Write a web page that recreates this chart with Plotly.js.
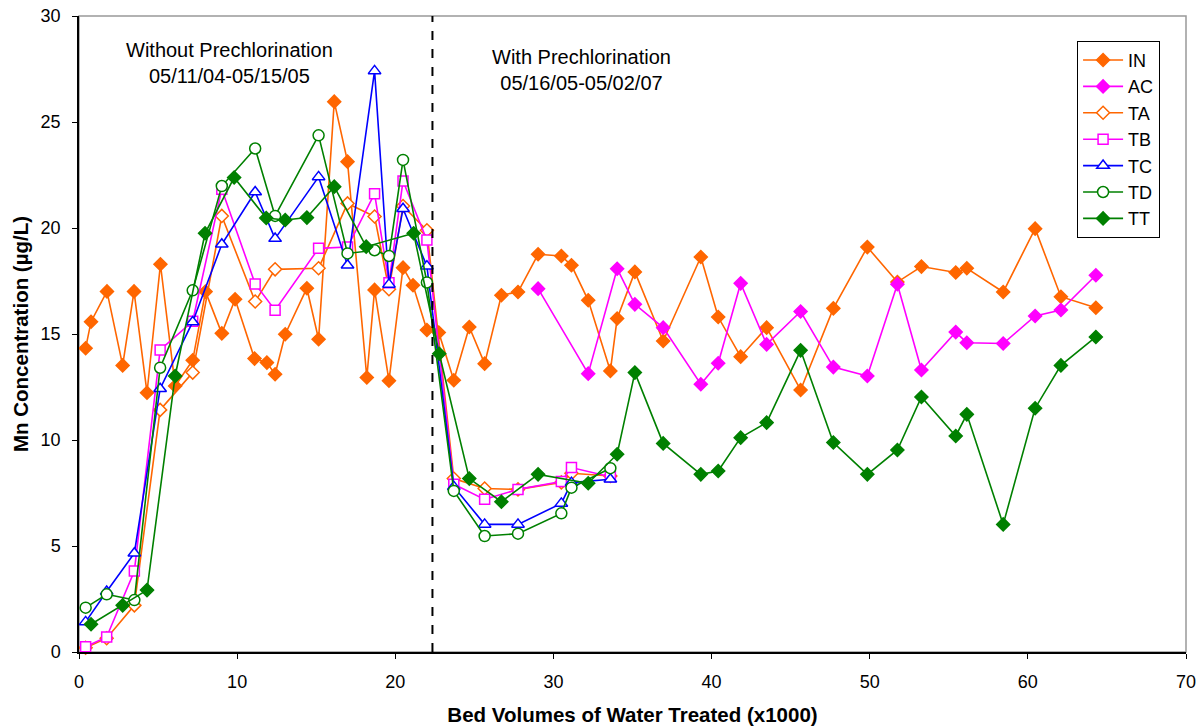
<!DOCTYPE html>
<html><head><meta charset="utf-8">
<script src="https://cdn.plot.ly/plotly-3.0.1.min.js"></script>
<style>body{margin:0;background:#fff}#c{width:1198px;height:727px}</style>
</head><body><div id="c"></div>
<script>
// Bed volumes (x1000) and Mn concentrations (µg/L)
const inX = [0.42,0.76,1.77,2.76,3.48,4.30,5.15,6.08,7.19,8.0,9.03,9.87,11.1,11.88,12.4,13.04,14.41,15.15,16.14,16.98,18.2,18.69,19.6,20.49,21.12,22.0,22.75,23.7,24.68,25.65,26.71,27.76,29.03,30.5,31.14,32.2,33.6,34.03,35.15,36.94,39.32,40.42,41.84,43.48,45.63,47.7,49.85,51.75,53.27,55.44,56.14,58.44,60.46,62.09,64.3];
const inY = [14.33,15.58,17.01,13.52,17.01,12.23,18.29,12.55,13.76,17.0,15.03,16.64,13.84,13.65,13.1,14.99,17.16,14.75,25.96,23.13,12.95,17.08,12.8,18.13,17.3,15.19,15.07,12.82,15.33,13.6,16.83,16.98,18.76,18.68,18.24,16.59,13.26,15.73,17.93,14.67,18.63,15.8,13.93,15.3,12.36,16.21,19.1,17.45,18.18,17.9,18.1,16.98,19.97,16.76,16.24];
const acX = [29.03,32.2,34.03,35.15,36.94,39.32,40.42,41.84,43.48,45.63,47.7,49.85,51.75,53.27,55.44,56.14,58.44,60.46,62.09,64.3];
const acY = [17.14,13.13,18.08,16.4,15.3,12.63,13.62,17.39,14.51,16.06,13.44,13.02,17.35,13.3,15.09,14.59,14.55,15.85,16.13,17.77];
const tX = [0.42,1.75,3.5,5.13,7.19,9.03,11.14,12.4,15.15,16.98,18.69,19.6,20.49,22.0,23.7,25.65,27.76,30.5,31.14,33.6];
const taY = [0.2,0.65,2.2,11.42,13.18,20.57,16.53,18.05,18.1,21.16,20.54,17.11,21.04,19.89,8.18,7.71,7.67,8.0,8.43,8.3];
const tbY = [0.25,0.71,3.82,14.25,15.6,21.83,17.36,16.12,19.04,19.1,21.62,17.42,22.22,19.43,7.91,7.2,7.67,8.04,8.7,8.27];
const tcY = [1.42,2.85,4.66,12.42,15.57,19.23,21.7,19.5,22.41,18.24,27.41,17.34,20.91,18.2,7.8,6.02,6.02,7.01,7.99,8.15];
const tdY = [2.09,2.72,2.45,13.41,17.06,21.98,23.75,20.57,24.37,18.8,18.95,18.68,23.21,17.43,7.6,5.47,5.58,6.54,7.75,8.67];
const ttX = [0.76,2.76,4.3,6.08,7.97,9.81,11.84,13.04,14.41,16.14,18.16,21.16,22.78,24.68,26.71,29.03,32.2,34.03,35.15,36.94,39.32,40.42,41.84,43.48,45.63,47.7,49.85,51.75,53.27,55.44,56.14,58.44,60.46,62.09,64.3];
const ttY = [1.31,2.2,2.92,13.02,19.75,22.38,20.47,20.38,20.49,21.95,19.12,19.75,14.07,8.18,7.09,8.38,7.96,9.33,13.18,9.84,8.38,8.54,10.11,10.82,14.23,9.88,8.38,9.53,12.03,10.19,11.21,6.02,11.5,13.52,14.86];
const dividerX = 22.35;
const xTicks = [0,10,20,30,40,50,60,70];
const yTicks = [0,5,10,15,20,25,30];

const ORANGE='#FF6600', MAG='#FF00FF', BLUE='#0000FF', GREEN='#008000';
function tr(name,x,y,color,symbol,filled,size){
  return {type:'scatter',mode:'lines+markers',name:name,x:x,y:y,
    line:{color:color,width:1.6},
    marker:{symbol:symbol,size:size,color:filled?color:'#ffffff',line:{color:color,width:1.5}},
    cliponaxis:false};
}
const data=[
  tr('IN',inX,inY,ORANGE,'diamond',true,10),
  tr('AC',acX,acY,MAG,'diamond',true,10),
  tr('TA',tX,taY,ORANGE,'diamond',false,10),
  tr('TB',tX,tbY,MAG,'square',false,10),
  tr('TC',tX,tcY,BLUE,'triangle-up',false,11),
  tr('TD',tX,tdY,GREEN,'circle',false,11),
  tr('TT',ttX,ttY,GREEN,'diamond',true,10)
];
const layout={
  width:1198,height:727,
  margin:{l:79,r:12,t:16,b:75},
  paper_bgcolor:'#fff',plot_bgcolor:'#fff',
  font:{family:'Liberation Sans, Arial, sans-serif',size:18,color:'#000'},
  showlegend:true,
  legend:{x:0.9016,y:0.961,xanchor:'left',yanchor:'top',bordercolor:'#000',borderwidth:1,bgcolor:'#fff',
    font:{size:18},tracegroupgap:0,itemwidth:40},
  xaxis:{range:[0,70],tickvals:xTicks,ticks:'outside',ticklen:5,tickcolor:'#000',showgrid:false,zeroline:false,
    showline:true,linecolor:'#000',linewidth:1.5,ticklabelstandoff:8,
    title:{text:'<b>Bed Volumes of Water Treated (x1000)</b>',font:{size:20.5},standoff:16}},
  yaxis:{range:[0,30],tickvals:yTicks,ticks:'outside',ticklen:5,tickcolor:'#000',showgrid:false,zeroline:false,
    showline:true,linecolor:'#000',linewidth:1.5,ticklabelstandoff:8,
    title:{text:'<b>Mn Concentration (µg/L)</b>',font:{size:20.5},standoff:6}},
  shapes:[
    {type:'rect',xref:'paper',yref:'paper',x0:0,x1:1,y0:0,y1:1,line:{color:'#999',width:1.5},layer:'below'},
    {type:'line',xref:'x',yref:'y',x0:dividerX,x1:dividerX,y0:0,y1:30,line:{color:'#000',width:2,dash:'dash'}}
  ],
  annotations:[
    {xref:'x',yref:'y',x:9.5,y:27.8,text:'Without Prechlorination<br>05/11/04-05/15/05',showarrow:false,font:{size:20},align:'center'},
    {xref:'x',yref:'y',x:31.8,y:27.43,text:'With Prechlorination<br>05/16/05-05/02/07',showarrow:false,font:{size:20},align:'center'}
  ]
};
Plotly.newPlot('c',data,layout,{displayModeBar:false});
</script></body></html>
